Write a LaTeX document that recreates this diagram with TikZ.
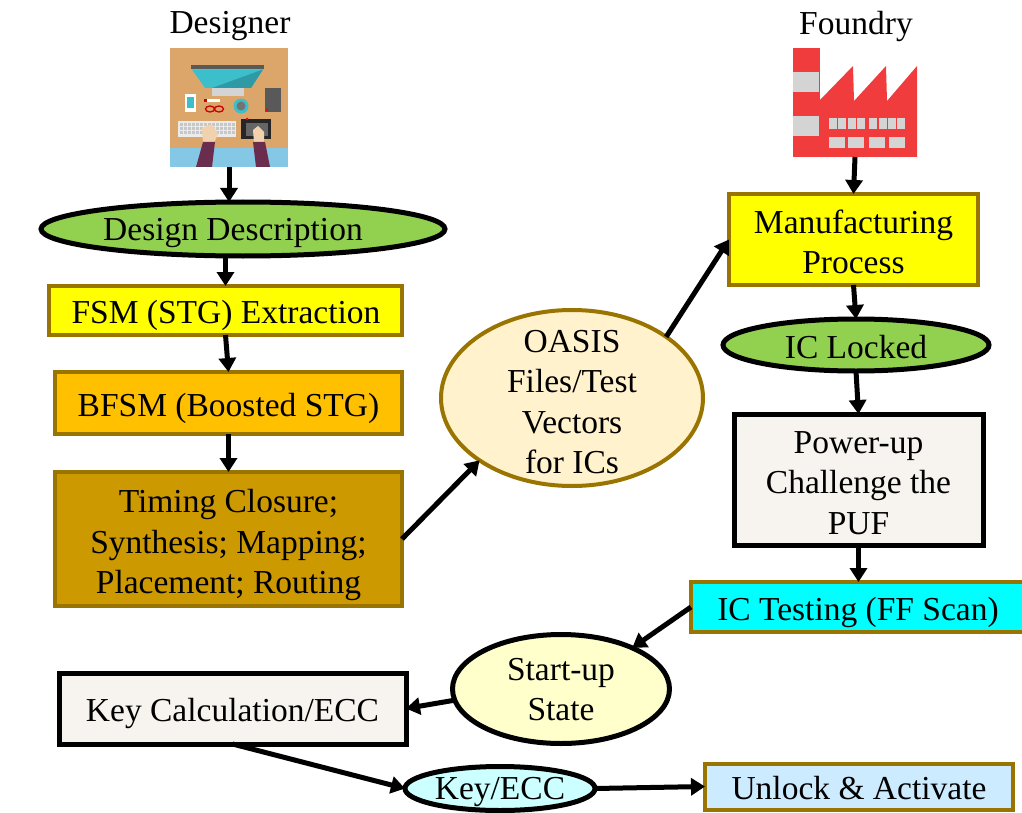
\documentclass[tikz,border=0pt]{standalone}
\usepackage{fontspec}
\setmainfont{Liberation Serif}
\usetikzlibrary{shapes.geometric,arrows.meta}

\definecolor{goldline}{HTML}{9A7400}
\definecolor{leafgreen}{HTML}{92D050}
\definecolor{brightyellow}{HTML}{FFFF00}
\definecolor{amber}{HTML}{FFC000}
\definecolor{darkgold}{HTML}{CC9900}
\definecolor{cream}{HTML}{FFF2CC}
\definecolor{paper}{HTML}{F7F3EE}
\definecolor{paleyellow}{HTML}{FFFFCC}
\definecolor{palecyan}{HTML}{CCFFFF}
\definecolor{paleblue}{HTML}{CCEBFF}
\definecolor{aqua}{HTML}{00FFFF}
\definecolor{desk}{HTML}{DCA66B}
\definecolor{deskblue}{HTML}{85C8E5}
\definecolor{screen}{HTML}{3DBECB}
\definecolor{screendark}{HTML}{2E9AA6}
\definecolor{sleeve}{HTML}{6B2D4E}
\definecolor{skin}{HTML}{F1D1AE}
\definecolor{factoryred}{HTML}{F03C3C}
\definecolor{factorygray}{HTML}{D4D4D4}

\begin{document}
\begin{tikzpicture}[x=1pt,y=-1pt,
  every node/.style={font=\fontsize{33.5}{40.5}\selectfont, align=center, inner sep=0pt, outer sep=0pt},
  goldbox/.style={rectangle, draw=goldline, line width=4pt},
  blackbox/.style={rectangle, draw=black, line width=5pt},
  oval/.style={ellipse, draw=black, line width=5pt},
  goldoval/.style={ellipse, draw=goldline, line width=4pt},
  flow/.style={-{Triangle[length=14pt,width=17pt]}, line width=5pt}]

\useasboundingbox (0,0) rectangle (1022,813);
\clip (0,0) rectangle (1022,813);

% headings
\node (designer) at (230,26) {Designer};
\node (foundry) at (856,26) {Foundry};

% ---- designer workplace icon ----
\node (deskicon) at (229,107.5) [minimum width=118pt, minimum height=119pt] {};
\fill[desk] (170,48) rectangle (288,148);
\fill[deskblue] (170,148) rectangle (288,167);
% monitor
\fill[black!65] (191,65) rectangle (264,69.5);
\fill[screen] (192,69.5) -- (263,69.5) -- (251,88) -- (205,88) -- cycle;
\fill[screendark] (263,69.5) -- (251,88) -- (212,88) -- cycle;
\fill[factorygray] (212,88) rectangle (244,96);
% phone
\fill[white] (185,94) rectangle (196,112);
\fill[screen] (187,97) rectangle (194,108);
% pen and glasses
\fill[white] (204,99) rectangle (220,102);
\fill[red!80!black] (204,99) rectangle (207,102);
\draw[red!80!black, line width=1.3pt] (210,109) ellipse (4.5pt and 3pt) (219,109) ellipse (4.5pt and 3pt);
% cup
\fill[screen] (241,106) circle (7.5pt);
\fill[black!55] (241,106) circle (4.5pt);
% notebook
\fill[black!65] (265,88) rectangle (281,112);
\fill[red] (267,110) circle (1.3pt);
% keyboard
\fill[white!92!black] (178,121) rectangle (236,137);
\foreach \kx in {180,184,...,232}{
  \foreach \ky in {123,127,131}{
    \fill[black!22] (\kx,\ky) rectangle ++(3,3);
  }
}
% tablet
\fill[black!85] (241,119) rectangle (271,139);
\fill[black!60] (246,123) rectangle (268,136);
\fill[red] (247,119) circle (1.5pt);
% hands and sleeves
\fill[skin] (202,128) -- (212,124) -- (218,134) -- (214,143) -- (203,143) -- cycle;
\fill[sleeve] (203,142) -- (215,142) -- (212,167) -- (196,167) -- cycle;
\fill[skin] (253,130) -- (258,126) -- (264,132) -- (264,143) -- (254,143) -- cycle;
\fill[sleeve] (253,142) -- (265,142) -- (270,167) -- (256,167) -- cycle;

% ---- factory icon ----
\node (factory) at (855,102.5) [minimum width=124pt, minimum height=109pt] {};
\fill[factoryred] (793,48) rectangle (819.5,157);
\fill[factoryred] (819,101) -- (853,66) -- (854,101) -- (886,66) -- (887,101) -- (917,66) -- (917,157) -- (819,157) -- cycle;
\fill[factorygray] (793,72) rectangle (819,92);
\fill[factorygray] (793,116) rectangle (819,136);
\foreach \wx in {829,838,848,857,869,879,888,897}{
  \fill[factorygray] (\wx,118) rectangle ++(7.5,11);
}
\foreach \wx in {829,848,869,889}{
  \fill[factorygray] (\wx,137) rectangle ++(15.5,11);
}

% ---- design flow (left) ----
\node (dd) at (243,229) [oval, fill=leafgreen, minimum width=404pt, minimum height=54pt] {};
\node (ddtext) at (233,233) {Design Description};
\node (fsm) at (225.5,310.5) [goldbox, fill=brightyellow, minimum width=353pt, minimum height=49pt] {};
\node (fsmtext) at (226,315) {FSM (STG) Extraction};
\node (bfsm) at (228.5,403) [goldbox, fill=amber, minimum width=347pt, minimum height=62pt] {};
\node (bfsmtext) at (228.5,408) {BFSM (Boosted STG)};
\node (timing) at (228.5,539) [goldbox, fill=darkgold, minimum width=347pt, minimum height=134pt] {};
\node (timingtext) at (228.5,545) {Timing Closure;\\Synthesis; Mapping;\\Placement; Routing};

\node (oasis) at (572,398) [goldoval, fill=cream, minimum width=262pt, minimum height=176pt] {};
\node (oasistext) at (572,402) {OASIS\\Files/Test\\Vectors\\for ICs};

% ---- foundry flow (right) ----
\node (mfg) at (853.5,239.5) [goldbox, fill=brightyellow, minimum width=249pt, minimum height=91pt] {};
\node (mfgtext) at (853.5,242) {Manufacturing\\Process};
\node (locked) at (856,345) [oval, fill=leafgreen, minimum width=266pt, minimum height=52pt] {};
\node (lockedtext) at (856,347.5) {IC Locked};
\node (puf) at (858.5,479.5) [blackbox, fill=paper, minimum width=249pt, minimum height=131pt] {};
\node (puftext) at (858.5,483) {Power-up\\Challenge the\\PUF};
\node (testing) at (858,607) [goldbox, fill=aqua, minimum width=334pt, minimum height=50pt] {};
\node (testingtext) at (858,612) {IC Testing (FF Scan)};

% ---- key recovery ----
\node (startup) at (561,689) [oval, fill=paleyellow, minimum width=217pt, minimum height=109pt] {};
\node (startuptext) at (561,689.5) {Start-up\\State};
\node (keycalc) at (232.5,708.5) [blackbox, fill=paper, minimum width=347pt, minimum height=71pt] {};
\node (keycalctext) at (232.5,713) {Key Calculation/ECC};
\node (keyecc) at (500,788.5) [oval, fill=palecyan, minimum width=190pt, minimum height=44pt] {};
\node (keyecctext) at (500,792) {Key/ECC};
\node (unlock) at (859,786.5) [goldbox, fill=paleblue, minimum width=308pt, minimum height=46pt] {};
\node (unlocktext) at (859,788.5) {Unlock \& Activate};

% ---- connectors ----
\draw[flow] (deskicon.south) -- (deskicon.south |- dd.north);
\draw[flow] (fsm.north |- dd.south) -- (fsm.north);
\draw[flow] (fsm.south) -- (bfsm.north);
\draw[flow] (bfsm.south) -- (timing.north);
\draw[flow] (timing.east) -- (oasis.214);
\draw[flow] (oasis.33) -- (mfg.west);
\draw[flow] (factory.south) -- (mfg.north);
\draw[flow] (mfg.south) -- (locked.north);
\draw[flow] (locked.south) -- (puf.north);
\draw[flow] (puf.south) -- (puf.south |- testing.north);
\draw[flow] (testing.west) -- (startup.30);
\draw[flow] (startup.186) -- (keycalc.east);
\draw[flow] (keycalc.south) -- (keyecc.west);
\draw[flow] (keyecc.east) -- (unlock.west);
\end{tikzpicture}
\end{document}
